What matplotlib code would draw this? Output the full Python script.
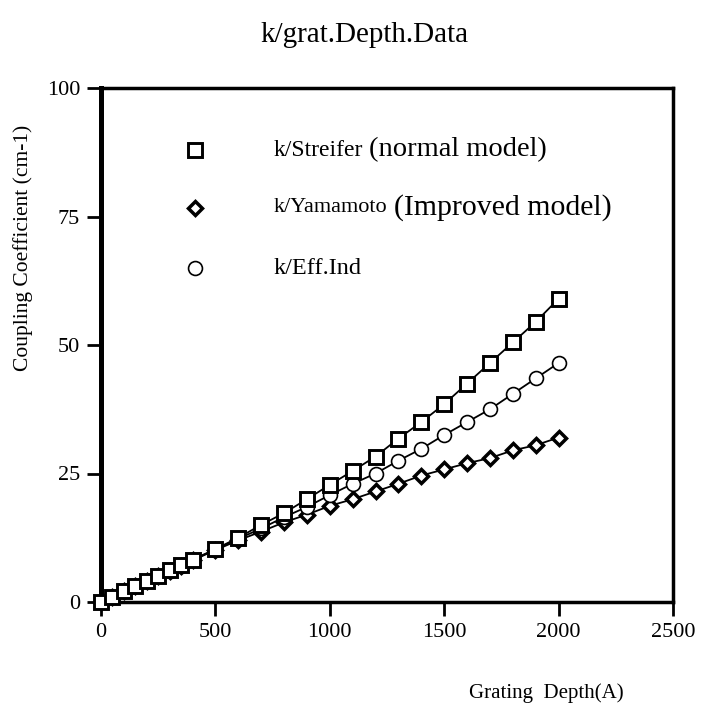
import matplotlib
matplotlib.use("Agg")
import matplotlib.pyplot as plt

# data
depth = [0, 50, 100, 150, 200, 250, 300, 350, 400, 500, 600, 700, 800, 900,
         1000, 1100, 1200, 1300, 1400, 1500, 1600, 1700, 1800, 1900, 2000]
k_streifer = [0, 1.0, 2.05, 3.1, 4.1, 5.1, 6.15, 7.2, 8.2, 10.3, 12.5, 15.0,
              17.3, 20.0, 22.8, 25.5, 28.3, 31.8, 35.0, 38.5, 42.5, 46.5,
              50.5, 54.5, 59.0]
k_yamamoto = [0, 1.0, 2.05, 3.1, 4.1, 5.1, 6.1, 7.1, 8.1, 10.1, 12.0, 13.7,
              15.5, 17.0, 18.7, 20.0, 21.5, 23.0, 24.6, 25.8, 27.0, 28.0,
              29.5, 30.5, 32.0]
k_effind = [0, 1.0, 2.05, 3.1, 4.1, 5.1, 6.1, 7.1, 8.2, 10.2, 12.3, 14.3,
            16.5, 18.5, 20.8, 23.0, 25.0, 27.5, 29.8, 32.5, 35.0, 37.5,
            40.5, 43.5, 46.5]
xticks = [0, 500, 1000, 1500, 2000, 2500]
yticks = [0, 25, 50, 75, 100]

plt.rcParams['font.family'] = ['Liberation Serif', 'DejaVu Serif']

fig = plt.figure(figsize=(7.02, 7.13), dpi=100)
ax = fig.add_axes([101 / 702, 1 - 602 / 713, 572 / 702, 514 / 713])

ax.plot(depth, k_yamamoto, color='black', lw=1.3, marker='D',
        ms=7.2, mfc='white', mec='black', mew=2.5, clip_on=False, zorder=3)
ax.plot(depth, k_effind, color='black', lw=1.3, marker='o',
        ms=10, mfc='white', mec='black', mew=1.2, clip_on=False, zorder=4)
ax.plot(depth, k_streifer, color='black', lw=1.3, marker='s',
        ms=10.2, mfc='white', mec='black', mew=2.1, clip_on=False, zorder=5)

ax.set_xlim(0, 2500)
ax.set_ylim(0, 100)
ax.set_xticks(xticks)
ax.set_yticks(yticks)
ax.tick_params(direction='out', length=10, width=2, labelsize=16, pad=5)
ax.spines['left'].set_linewidth(3.6)
for s in ['bottom', 'top', 'right']:
    ax.spines[s].set_linewidth(2.5)

# hand-made legend
tr = ax.transAxes
rows = [
    ('s', 10.2, 2.1, 'k/Streifer', 17, '(normal model)', 20.5, 150),
    ('D', 7.2, 2.5, 'k/Yamamoto', 16, '(Improved model)', 21.5, 208),
    ('o', 10, 1.2, 'k/Eff.Ind', 17.5, None, 0, 268),
]
for m, ms, mew, t1, f1, t2, f2, ypix in rows:
    yy = (602 - ypix) / 514
    ax.plot([(195 - 101) / 572], [yy], marker=m, ms=ms, mfc='white',
            mec='black', mew=mew, transform=tr, clip_on=False)
    txt = ax.text((274 - 101) / 572, yy, t1, fontsize=f1, transform=tr,
                  va='center', ha='left')
    if t2:
        fig.canvas.draw()
        bb = txt.get_window_extent()
        x2 = ax.transAxes.inverted().transform((bb.x1 + 6, 0))[0]
        ax.text(x2, yy, t2, fontsize=f2, transform=tr, va='center', ha='left')

fig.text(365 / 702, 1 - 35 / 713, 'k/grat.Depth.Data', fontsize=21,
         ha='center', va='center')
fig.text(546 / 702, 1 - 693 / 713, 'Grating  Depth(A)', fontsize=15,
         ha='center', va='center')
fig.text(23 / 702, 1 - 248 / 713, 'Coupling Coefficient (cm-1)',
         fontsize=15.5, ha='center', va='center', rotation=90)

fig.savefig('out.png', dpi=100)
